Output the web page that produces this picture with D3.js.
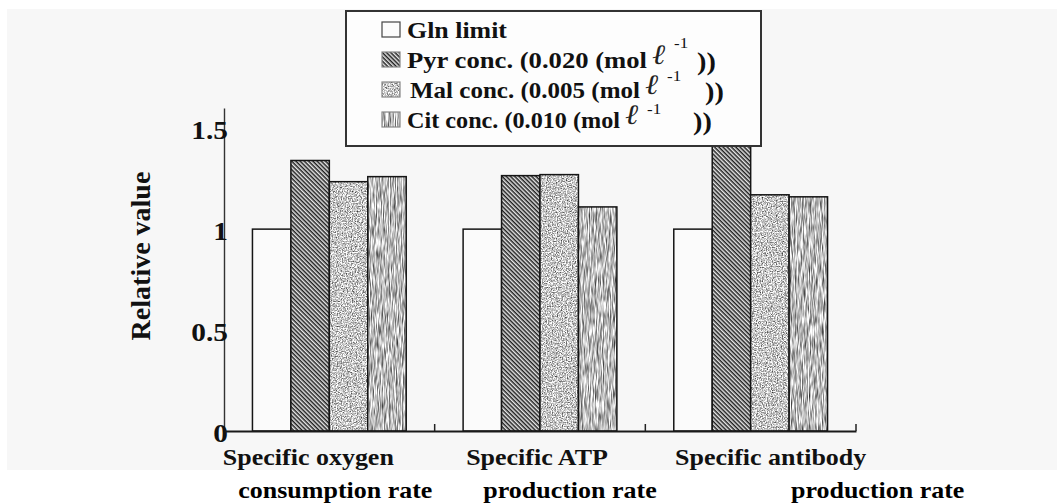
<!DOCTYPE html>
<html>
<head>
<meta charset="utf-8">
<script src="https://cdn.jsdelivr.net/npm/d3@7"></script>
<style>
  html, body { margin: 0; padding: 0; background: #fff; }
  svg { display: block; }
</style>
</head>
<body>
<svg id="chart" width="1057" height="504"></svg>
<script>
// ---- data ----
const categoriesTop = ["Specific oxygen", "Specific ATP", "Specific antibody"];
const categoriesBottom = ["consumption rate", "production rate", "production rate"];
const seriesKeys = ["gln", "pyr", "mal", "cit"];
const legendLabels = ["Gln limit", "Pyr conc. (0.020 (mol", "Mal conc. (0.005 (mol", "Cit conc. (0.010 (mol"];
const legendHasUnit = [false, true, true, true];
const glnValues = [1.0, 1.0, 1.0];
const pyrValues = [1.34, 1.265, 1.46];
const malValues = [1.235, 1.27, 1.17];
const citValues = [1.26, 1.11, 1.16];
const yTicks = [0, 0.5, 1, 1.5];
const yTickLabels = ["0", "0.5", "1", "1.5"];
const yTitle = "Relative value";

const seriesValues = { gln: glnValues, pyr: pyrValues, mal: malValues, cit: citValues };

// ---- layout ----
const SX = 1.13;                 // horizontal stretch applied to the lettering
const serif = "'Liberation Serif', 'Times New Roman', serif";
const plot = { left: 224, right: 856, top: 108, bottom: 431 };
const topLabelShift = [-21, -3, 20];
const bottomLabelShift = [6, 30, 127];
// legend lettering
const legendTextX = [61, 61, 64, 61];
const legendTextWidth = [100, 240, 230, 213];
const unitEllDx = [0, 5, 5, 5];
const unitSupDx = [0, 27, 27, 27];
const unitSupDy = [0, -20, -17, -14];
const unitParenDx = [0, 50, 65, 73];

const svg = d3.select("#chart");
const defs = svg.append("defs");

// diagonal hatching for the pyruvate bars
const hatch = defs.append("pattern")
  .attr("id", "hatch").attr("patternUnits", "userSpaceOnUse")
  .attr("width", 6).attr("height", 3).attr("patternTransform", "rotate(45)");
hatch.append("rect").attr("width", 6).attr("height", 3).attr("fill", "#e6e6e6");
hatch.append("rect").attr("width", 6).attr("height", 1.5).attr("fill", "#202020");

// grainy screen tones for the malate / citrate bars:
// output = base colour + amp * (noise - 0.5), clipped to the bar
function toneFilter(id, freq, amp, seed) {
  const f = defs.append("filter").attr("id", id)
    .attr("x", 0).attr("y", 0).attr("width", 1).attr("height", 1)
    .attr("color-interpolation-filters", "sRGB");
  f.append("feTurbulence").attr("type", "fractalNoise")
    .attr("baseFrequency", freq).attr("numOctaves", 2).attr("seed", seed).attr("result", "noise");
  f.append("feColorMatrix").attr("in", "noise").attr("type", "matrix")
    .attr("values", "1 0 0 0 0  1 0 0 0 0  1 0 0 0 0  0 0 0 0 1")
    .attr("result", "grain");
  f.append("feComposite").attr("in", "SourceGraphic").attr("in2", "grain")
    .attr("operator", "arithmetic").attr("k1", 0).attr("k2", 1).attr("k3", amp).attr("k4", -amp / 2)
    .attr("result", "toned");
  f.append("feComposite").attr("in", "toned").attr("in2", "SourceGraphic").attr("operator", "in");
}
toneFilter("toneMal", "0.8", 1.5, 4);
toneFilter("toneCit", "0.85 0.08", 1.4, 9);

const seriesStyle = {
  gln: { fill: "#fbfbfb", filter: null },
  pyr: { fill: "url(#hatch)", filter: null },
  mal: { fill: "#c6c6c6", filter: "url(#toneMal)" },
  cit: { fill: "#bababa", filter: "url(#toneCit)" }
};

// page tone of the figure
svg.append("rect").attr("x", 7).attr("y", 9).attr("width", 1050).attr("height", 461).attr("fill", "#f7f7f7");

// ---- scales ----
const x0 = d3.scaleBand().domain(categoriesTop).range([plot.left, plot.right]).padding(0);
const x1 = d3.scaleBand().domain(seriesKeys).range([0, x0.bandwidth()]).paddingInner(0).paddingOuter(0.74);
const y = d3.scaleLinear().domain([0, 1.6]).range([plot.bottom, plot.top]);

// ---- bars ----
const barLayer = svg.append("g");
seriesKeys.forEach(key => {
  const g = barLayer.append("g");
  const rows = seriesValues[key].map((v, i) => ({ cat: categoriesTop[i], v }));
  g.selectAll("rect.fill").data(rows).join("rect")
    .attr("class", "fill")
    .attr("x", d => x0(d.cat) + x1(key))
    .attr("y", d => y(d.v))
    .attr("width", x1.bandwidth())
    .attr("height", d => y(0) - y(d.v))
    .attr("fill", seriesStyle[key].fill)
    .attr("filter", seriesStyle[key].filter);
  g.selectAll("rect.edge").data(rows).join("rect")
    .attr("class", "edge")
    .attr("x", d => x0(d.cat) + x1(key))
    .attr("y", d => y(d.v))
    .attr("width", x1.bandwidth())
    .attr("height", d => y(0) - y(d.v))
    .attr("fill", "none").attr("stroke", "#151515").attr("stroke-width", 1.5);
});

// ---- axes ----
const yAxis = svg.append("g").attr("transform", `translate(${plot.left},0)`)
  .call(d3.axisLeft(y).tickValues(yTicks).tickSize(0).tickPadding(-4)
    .tickFormat((d, i) => yTickLabels[i]));
yAxis.select(".domain").attr("stroke", "#333").attr("stroke-width", 1.4);
yAxis.selectAll(".tick text")
  .attr("font-family", serif).attr("font-weight", "bold").attr("font-size", 26)
  .attr("fill", "#111").attr("dy", "0.40em")
  .attr("transform", `scale(${SX},1)`)
  .attr("x", 4 / SX);

const xAxis = svg.append("g").attr("transform", `translate(0,${plot.bottom})`)
  .call(d3.axisBottom(x0).tickSize(0).tickFormat(""));
xAxis.select(".domain").attr("stroke", "#1a1a1a").attr("stroke-width", 2);

// small upward ticks at the category boundaries
const boundaries = categoriesTop.map(c => x0(c) + x0.step());
svg.append("g").selectAll("line").data(boundaries).join("line")
  .attr("x1", d => d).attr("x2", d => d)
  .attr("y1", plot.bottom).attr("y2", plot.bottom - 7)
  .attr("stroke", "#222").attr("stroke-width", 1.5);

// y axis title
svg.append("text")
  .attr("transform", `translate(150,256) rotate(-90)`)
  .attr("text-anchor", "middle")
  .attr("font-family", serif).attr("font-weight", "bold").attr("font-size", 28)
  .attr("fill", "#111").text(yTitle);

// category labels, first line (sits on the grey page tone)
svg.append("g").selectAll("text").data(categoriesTop).join("text")
  .attr("transform", (d, i) => `translate(${x0(d) + x0.bandwidth() / 2 + topLabelShift[i]},465) scale(${SX},1)`)
  .attr("text-anchor", "middle")
  .attr("font-family", serif).attr("font-weight", "bold").attr("font-size", 23)
  .attr("fill", "#111").text(d => d);

// lower white strip
svg.append("rect").attr("x", 0).attr("y", 470).attr("width", 1057).attr("height", 34).attr("fill", "#fff");

// category labels, second line
svg.append("g").selectAll("text").data(categoriesBottom).join("text")
  .attr("transform", (d, i) => `translate(${x0(categoriesTop[i]) + x0.bandwidth() / 2 + bottomLabelShift[i]},498) scale(${SX},1)`)
  .attr("text-anchor", "middle")
  .attr("font-family", serif).attr("font-weight", "bold").attr("font-size", 23)
  .attr("fill", "#000").text(d => d);

// ---- legend ----
const legend = svg.append("g").attr("transform", "translate(346,11)");
legend.append("rect").attr("width", 415).attr("height", 135)
  .attr("fill", "#fdfdfd").attr("stroke", "#333").attr("stroke-width", 2);

seriesKeys.forEach((key, i) => {
  const base = 27 + i * 30;
  const row = legend.append("g");
  row.append("rect").attr("x", 36).attr("y", base - 16).attr("width", 18).attr("height", 15)
    .attr("fill", seriesStyle[key].fill).attr("filter", seriesStyle[key].filter);
  row.append("rect").attr("x", 36).attr("y", base - 16).attr("width", 18).attr("height", 15)
    .attr("fill", "none").attr("stroke", key === "gln" ? "#444" : "#888").attr("stroke-width", 1.2);
  const tx = legendTextX[i];
  row.append("text")
    .attr("x", tx).attr("y", base)
    .attr("textLength", legendTextWidth[i]).attr("lengthAdjust", "spacingAndGlyphs")
    .attr("font-family", serif).attr("font-weight", "bold").attr("font-size", 23.5)
    .attr("fill", "#111").text(legendLabels[i]);
  if (legendHasUnit[i]) {
    const end = tx + legendTextWidth[i];
    row.append("text")
      .attr("transform", `translate(${end + unitEllDx[i]},${base - 4}) scale(${SX},1)`)
      .attr("font-family", serif).attr("font-style", "italic").attr("font-size", 28)
      .attr("fill", "#222").text("\u2113");
    row.append("text")
      .attr("transform", `translate(${end + unitSupDx[i]},${base + unitSupDy[i]}) scale(${SX},1)`)
      .attr("font-family", serif).attr("font-size", 15)
      .attr("fill", "#111").text("-1");
    row.append("text")
      .attr("transform", `translate(${end + unitParenDx[i]},${base + 2}) scale(${SX},1)`)
      .attr("font-family", serif).attr("font-weight", "bold").attr("font-size", 25)
      .attr("fill", "#111").text("))");
  }
});
</script>
</body>
</html>
